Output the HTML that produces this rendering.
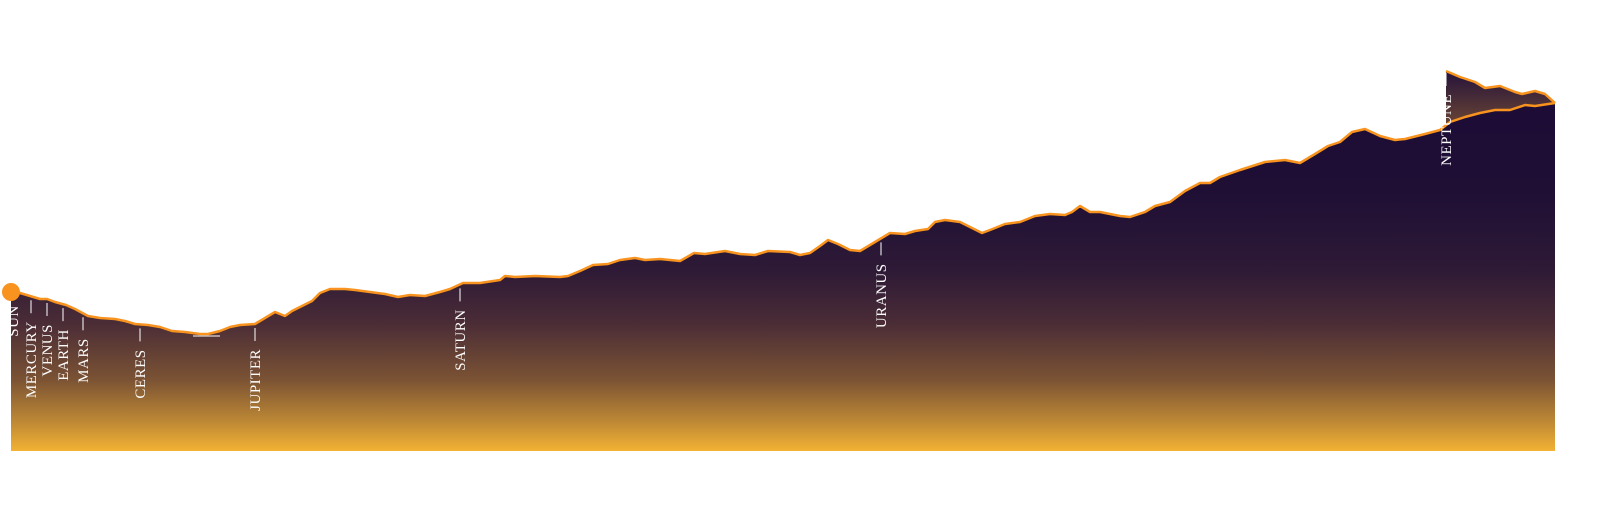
<!DOCTYPE html>
<html><head><meta charset="utf-8"><style>
html,body{margin:0;padding:0;background:#fff;overflow:hidden;}
svg{display:block;}
text{font-family:"Liberation Serif",serif;font-size:15px;fill:#fff;letter-spacing:0.5px;}
</style></head><body>
<svg id="chart" width="1599" height="526">
<defs>
<linearGradient id="g1" x1="0" y1="51" x2="0" y2="451" gradientUnits="userSpaceOnUse">
<stop offset="0" stop-color="#1b0b36"/>
<stop offset="0.35" stop-color="#1f0f35"/>
<stop offset="0.55" stop-color="#2e1a36"/>
<stop offset="0.68" stop-color="#4a2c36"/>
<stop offset="0.82" stop-color="#7a5234"/>
<stop offset="0.93" stop-color="#c08a35"/>
<stop offset="1" stop-color="#f3b233"/>
</linearGradient>
<linearGradient id="g2" x1="0" y1="71" x2="0" y2="125" gradientUnits="userSpaceOnUse">
<stop offset="0" stop-color="#24123a"/>
<stop offset="1" stop-color="#6a4535"/>
</linearGradient>
</defs>
</svg>
<script>
// data: distance (px-scaled units) and profile height
const xs=[0,9,19,29,36,44,55,64,77,89,104,114,124,137,149,161,174,189,197,209,219,229,244,254,264,274,281,291,301,309,319,334,344,359,374,387,399,414,429,439,452,469,489,494,504,524,549,557,569,582,597,609,624,634,649,669,683,694,714,729,744,757,779,789,799,809,817,827,839,849,864,879,894,904,917,924,934,949,959,971,979,994,1009,1024,1039,1054,1061,1069,1079,1089,1099,1109,1119,1134,1144,1159,1174,1189,1199,1209,1229,1254,1274,1289,1304,1317,1329,1341,1354,1369,1384,1394,1414,1429,1439,1454,1469,1484,1499,1514,1524,1544];
const vals=[39.75,39.5,38.75,38,38,37.25,36.5,35.5,33.75,33.25,33,32.5,31.75,31.5,31,30,29.75,29.25,29.25,30,31,31.5,31.75,33.25,34.75,33.75,35,36.25,37.5,39.5,40.5,40.5,40.25,39.75,39.25,38.5,39,38.75,39.75,40.5,42,42,42.75,43.75,43.5,43.75,43.5,43.75,45,46.5,46.75,47.75,48.25,47.75,48,47.5,49.5,49.25,50,49.25,49,50,49.75,49,49.5,51.25,52.75,51.75,50.25,50,52.25,54.5,54.25,55,55.5,57.25,57.75,57.25,56,54.5,55.25,56.75,57.25,58.75,59.25,59,59.75,61.25,59.75,59.75,59.25,58.75,58.5,59.75,61.25,62.25,65,67,67,68.5,70.25,72.25,72.75,72,74.25,76.25,77.25,79.75,80.5,78.75,77.75,78,79.25,80.25,82.25,83.5,84.5,85.25,85.25,86.5,86.25,87];
const nepXs=[1435,1449,1464,1474,1489,1504,1511,1524,1534,1544];
const nepVals=[95,93.5,92.25,90.75,91.25,89.75,89.25,90,89.25,87];
const planetNames=["SUN","MERCURY","VENUS","EARTH","MARS","CERES","JUPITER","SATURN","URANUS","NEPTUNE"];
const planetXs=[2,20,36,52,72,129,244,449,870,1435];

const NS="http://www.w3.org/2000/svg";
const svg=document.getElementById('chart');
const sx=d=>11+d;
const sy=v=>451-v*4;
function interp(d){for(let i=0;i<xs.length-1;i++){if(d>=xs[i]&&d<=xs[i+1]){const t=(d-xs[i])/(xs[i+1]-xs[i]);return vals[i]+t*(vals[i+1]-vals[i]);}}return vals[vals.length-1];}
function mk(tag,attrs){const e=document.createElementNS(NS,tag);for(const k in attrs)e.setAttribute(k,attrs[k]);svg.appendChild(e);return e;}

let d2="M"+sx(nepXs[0])+","+sy(nepVals[0]);
for(let i=1;i<nepXs.length;i++)d2+="L"+sx(nepXs[i])+","+sy(nepVals[i]);
for(let i=xs.length-1;i>=0;i--){if(xs[i]>=nepXs[0])d2+="L"+sx(xs[i])+","+sy(vals[i]);}
d2+="L"+sx(nepXs[0])+","+sy(interp(nepXs[0]))+"Z";
const na=mk('path',{d:d2,fill:'url(#g2)'});


let l2="M"+sx(nepXs[0])+","+sy(nepVals[0]);
for(let i=1;i<nepXs.length;i++)l2+="L"+sx(nepXs[i])+","+sy(nepVals[i]);
const nl=mk('path',{d:l2,fill:'none',stroke:'#f7931e','stroke-width':2.5,'stroke-linejoin':'round'});



let line="M"+sx(xs[0])+","+sy(vals[0]);
for(let i=1;i<xs.length;i++)line+="L"+sx(xs[i])+","+sy(vals[i]);
const area=mk('path',{d:line+"L"+sx(xs[xs.length-1])+","+sy(0)+"L"+sx(xs[0])+","+sy(0)+"Z",fill:'url(#g1)'});


const ln=mk('path',{d:line,fill:'none',stroke:'#f7931e','stroke-width':2.5,'stroke-linejoin':'round'});



const belt=mk('line',{x1:193,x2:220,y1:336,y2:336,stroke:'#fff','stroke-width':1});



planetNames.forEach((n,i)=>{
  const d=planetXs[i];
  let top=(n==="NEPTUNE")?sy(nepVals[0])+2:sy(interp(d))+4;
  const x=sx(d);
  if(n!=="SUN"){
    const t=mk('line',{x1:x,x2:x,y1:top,y2:top+13,stroke:'#fff','stroke-width':1});
    
    
  }
  const ly=(n==="SUN")?top+9:top+21;
  const tx=mk('text',{x:0,y:0,'text-anchor':'end',transform:`translate(${x+5},${ly}) rotate(-90)`});
  tx.textContent=n;
  
  
});

const sun=mk('circle',{cx:sx(xs[0]),cy:sy(vals[0]),r:9,fill:'#f7931e'});


</script>
</body></html>
